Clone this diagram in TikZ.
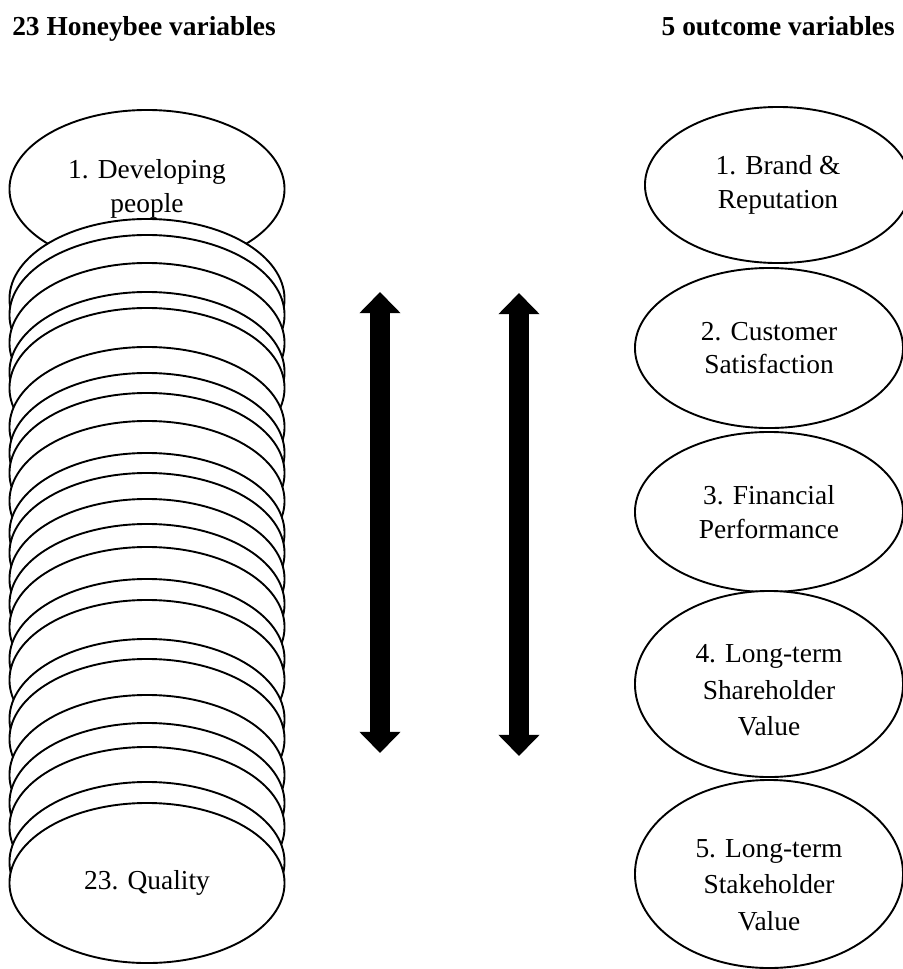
\documentclass[tikz,border=0pt]{standalone}
\usepackage{fontspec}
\setmainfont{Liberation Serif}
\usetikzlibrary{arrows.meta,positioning,shapes.geometric}

\begin{document}
\begin{tikzpicture}[x=0.025cm,y=-0.025cm,
  oval/.style={ellipse,draw=black,fill=white,line width=1.35pt,inner sep=0pt,align=center,font=\fontsize{19.5}{24}\selectfont},
  stackoval/.style={oval,minimum width=6.875cm,minimum height=4cm},
  outoval/.style={oval,minimum width=6.7cm,minimum height=4cm},
  tallfont/.style={font=\fontsize{19.5}{26}\selectfont,align=center,inner sep=0pt},
  heading/.style={font=\bfseries\fontsize{19.5}{24}\selectfont,inner sep=0pt},
  bigarrow/.style={line width=0.5cm,{Triangle[width=1cm,length=0.53cm]}-{Triangle[width=1cm,length=0.53cm]}}
]
\useasboundingbox (0,0) rectangle (903,969);

% headings
\node[heading,anchor=base west] (hleft) at (12,35) {23 Honeybee variables};
\node[heading,anchor=base east] (hright) at (895,35) {5 outcome variables};

% honeybee stack
\node[stackoval,minimum height=3.95cm] (v1) at (147,189) {1. Developing\\people};
\foreach \t [count=\i from 2] in {219,235,263,292,308,347,373,393,421,453,473,499,524,547,579,600,639,659,695,723,747,782}
  \node[stackoval] (v\i) at (147,\t+80) {};
\node[stackoval] (v24) at (147,883) {23. Quality};

% two-way arrows
\coordinate (la) at (380,292);
\coordinate (lb) at (380,753);
\coordinate (ra) at (519,293);
\coordinate (rb) at (519,756);
\draw[bigarrow] (la) -- (lb);
\draw[bigarrow] (ra) -- (rb);

% outcomes
\node[outoval,minimum width=6.65cm,minimum height=3.9cm] (o1) at (778,185) {1. Brand \&\\Reputation};
\node[outoval] (o2) at (769,348) {2. Customer\\Satisfaction};
\node[outoval] (o3) at (769,512) {3. Financial\\Performance};
\node[outoval,minimum height=4.65cm,
  label={[tallfont,yshift=-0.16cm]center:4. Long-term\\Shareholder\\Value}] (o4) at (769,684) {};
\node[outoval,minimum height=4.7cm,
  label={[tallfont,yshift=-0.27cm]center:5. Long-term\\Stakeholder\\Value}] (o5) at (769,874) {};
\end{tikzpicture}
\end{document}
